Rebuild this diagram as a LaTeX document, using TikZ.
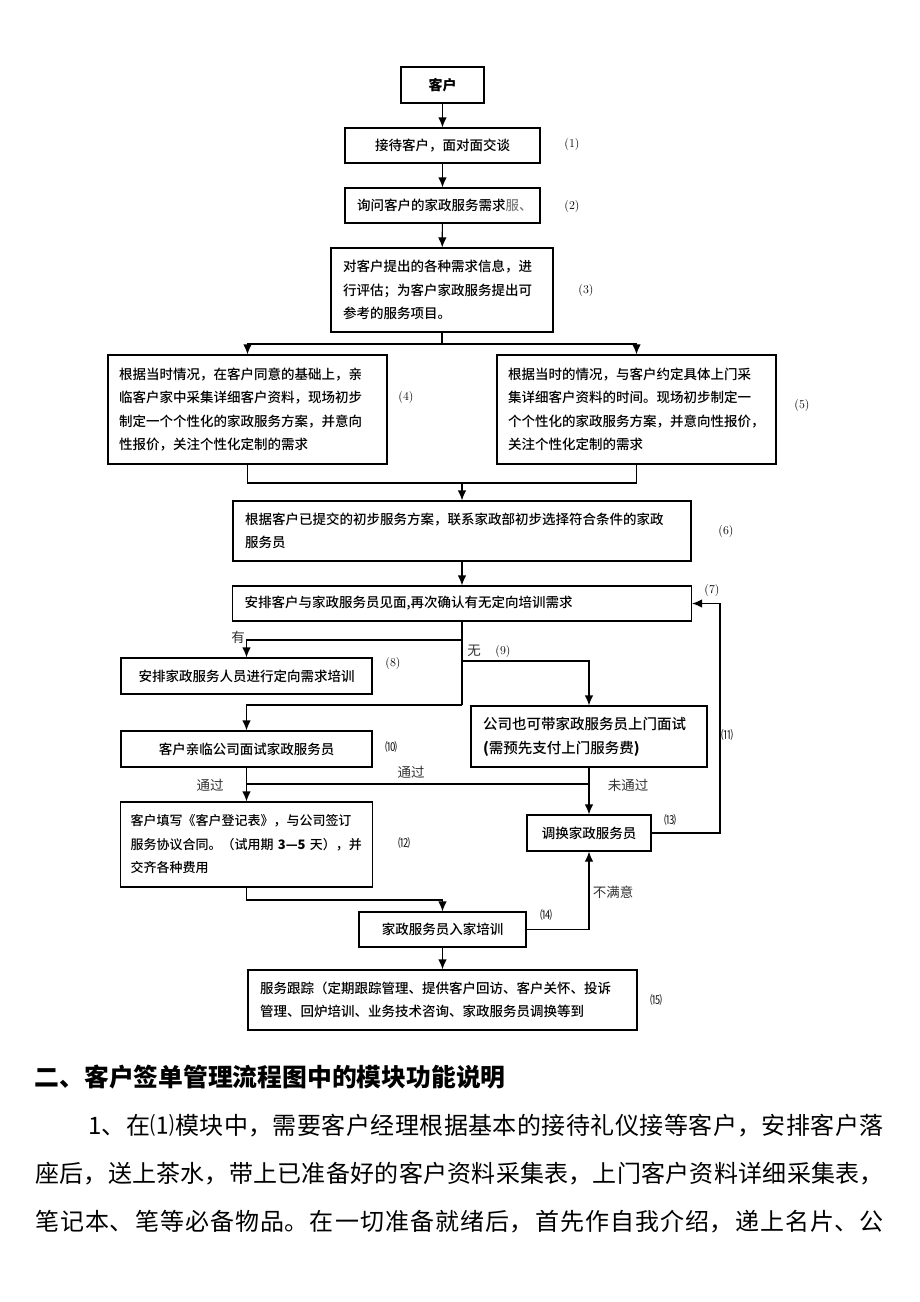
\documentclass[tikz,border=0pt]{standalone}
\usepackage{fontspec}
\newfontfamily\cjk{Noto Sans CJK SC}
\newfontfamily\cjkm{Noto Sans CJK SC Medium}
\usepackage{tikz}
\usetikzlibrary{arrows.meta}
\definecolor{ink}{RGB}{0, 0, 0}
\definecolor{faded}{RGB}{125, 125, 125}
\definecolor{note}{RGB}{50, 50, 50}

\begin{document}
\begin{tikzpicture}[x=1pt, y=-1pt, line width=1.2pt, >={Latex[length=10pt, width=8.5pt]},
  box/.style={draw=ink, inner xsep=12pt, inner ysep=0pt, align=left,
    font=\cjkm\fontsize{13.5}{23.5}\selectfont},
  mid/.style={box, align=center},
  num/.style={font=\fontsize{12}{12}\selectfont},
  wnum/.style={font=\cjk\fontsize{12}{12}\selectfont},
  tag/.style={text=note, font=\cjk\fontsize{13.5}{13.5}\selectfont}]

  \fill[white] (0, 0) rectangle (920, 1302);

  \node[mid, text width=59pt, minimum height=36pt,
    font=\cjk\bfseries\fontsize{14}{14}\selectfont] (kehu) at (442.5, 85) {客户};
  \node[mid, text width=171pt, minimum height=35pt] (jiedai) at (442.5, 145.5) {接待客户，面对面交谈};
  \node[mid, text width=171pt, minimum height=35pt] (xunwen) at (442.5, 205.5) {询问客户的家政服务需求\textcolor{faded}{服、}};
  \node[box, text width=198pt, minimum height=84pt] (pinggu) at (442, 290)
  {对客户提出的各种需求信息，进\\行评估；为客户家政服务提出可\\参考的服务项目。};

  \node[box, inner xsep=11pt, text width=257pt, minimum height=109pt] (qinlin) at (247.5, 409.5)
  {根据当时情况，在客户同意的基础上，亲\\临客户家中采集详细客户资料，现场初步\\制定一个个性化的家政服务方案，并意向\\性报价，关注个性化定制的需求};
  \node[box, inner xsep=11pt, text width=257pt, minimum height=109pt] (yueding) at (636.5, 409.5)
  {根据当时的情况，与客户约定具体上门采\\集详细客户资料的时间。现场初步制定一\\个个性化的家政服务方案，并意向性报价，\\关注个性化定制的需求};

  \node[box, text width=434pt, minimum height=60pt] (xuanze) at (462, 531)
  {根据客户已提交的初步服务方案，联系家政部初步选择符合条件的家政\\服务员};
  \node[box, text width=435pt, minimum height=35pt] (jianmian) at (462, 603.5)
  {安排客户与家政服务员见面,再次确认有无定向培训需求};

  \node[mid, text width=227pt, minimum height=36pt] (peixun) at (246.5, 676) {安排家政服务人员进行定向需求培训};
  \node[box, text width=212pt, minimum height=61pt,
    font=\cjkm\fontsize{14.5}{24}\selectfont] (shangmen) at (589, 736.5)
  {公司也可带家政服务员上门面试\\\textbf{(}需预先支付上门服务费\textbf{)}};
  \node[mid, text width=227pt, minimum height=36pt] (mianshi) at (246.5, 749) {客户亲临公司面试家政服务员};

  \node[box, inner xsep=10pt, text width=232pt, minimum height=85pt,
    font=\cjkm\fontsize{13}{23.5}\selectfont] (qianding) at (246.5, 844.5)
  {客户填写《客户登记表》，与公司签订\\\mbox{服务协议合同。（试用期 {\cjk\bfseries 3—5} 天），并}\\交齐各种费用};
  \node[mid, text width=100pt, minimum height=36pt] (tiaohuan) at (589, 833) {调换家政服务员};
  \node[mid, text width=143pt, minimum height=35pt] (rujia) at (442.5, 929.5) {家政服务员入家培训};
  \node[box, text width=365pt, minimum height=60pt] (genzong) at (442.5, 1000)
  {服务跟踪（定期跟踪管理、提供客户回访、客户关怀、投诉\\管理、回炉培训、业务技术咨询、家政服务员调换等到};

  \node[num] (n1) at (572, 145) {(1)};
  \node[num] (n2) at (572, 206) {(2)};
  \node[num] (n3) at (586, 290) {(3)};
  \node[num] (n4) at (406, 397) {(4)};
  \node[num] (n5) at (802, 405) {(5)};
  \node[num] (n6) at (726, 531) {(6)};
  \node[num] (n7) at (712, 590) {(7)};
  \node[num] (n8) at (393, 663) {(8)};
  \node[num] (n9) at (503, 651) {(9)};
  \node[wnum] (n10) at (391, 747) {⑽};
  \node[wnum] (n11) at (727, 735) {⑾};
  \node[wnum] (n12) at (404, 843) {⑿};
  \node[wnum] (n13) at (670, 820) {⒀};
  \node[wnum] (n14) at (546, 915) {⒁};
  \node[wnum] (n15) at (656, 1000) {⒂};

  \node[tag] (t1) at (238, 637) {有};
  \node[tag] (t2) at (474, 651) {无};
  \node[tag] (t3) at (210, 785) {通过};
  \node[tag] (t4) at (411, 772) {通过};
  \node[tag] (t5) at (628, 785) {未通过};
  \node[tag] (t6) at (613, 892) {不满意};

  \draw[->] (kehu) -- (jiedai);
  \draw[->] (jiedai) -- (xunwen);
  \draw[->] (xunwen) -- (pinggu);

  \coordinate (fen) at (442, 344);
  \draw (pinggu) -- (fen);
  \draw[->] (fen) -| (qinlin);
  \draw[->] (fen) -| (yueding);
  \coordinate (he) at (462, 483);
  \draw (qinlin) |- (he);
  \draw (yueding) |- (he);
  \draw[->] (he) -- (xuanze);
  \draw[->] (xuanze) -- (jianmian);

  \coordinate (you) at (462, 640);
  \coordinate (wu) at (462, 661);
  \coordinate (guai) at (462, 705);
  \draw (jianmian) -- (guai);
  \draw[->] (you) -| (peixun);
  \draw[->] (wu) -| (shangmen);
  \draw[->] (guai) -| (mianshi);
  \draw[->] (mianshi) -- (qianding);

  \coordinate (tongguo) at (589, 784);
  \coordinate (ru) at (246.5, 784);
  \draw (tongguo) -- (ru);
  \draw[->] (shangmen) -- (tiaohuan);
  \coordinate (hui) at (720, 720);
  \draw[->] (tiaohuan) -| (hui) |- (jianmian);

  \coordinate (xia) at (442.5, 900);
  \draw[->] (qianding) |- (xia) -- (rujia);
  \draw[->] (rujia) -| (tiaohuan);
  \draw[->] (rujia) -- (genzong);

  \node[anchor=west, inner sep=0pt, font=\cjk\bfseries\fontsize{24.8}{24.8}\selectfont] (biaoti) at (34, 1077)
  {二、客户签单管理流程图中的模块功能说明};
  \node[anchor=north west, inner sep=0pt, text width=848pt, align=justify,
    font=\cjk\fontsize{24}{48}\selectfont] (shuoming) at (35, 1114)
  {\XeTeXlinebreaklocale "zh"\XeTeXlinebreakskip=0pt plus 3pt\parfillskip=0pt\relax
   \noindent\hspace*{53pt}1、在⑴模块中，需要客户经理根据基本的接待礼仪接等客户，安排客户落\linebreak
   座后，送上茶水，带上已准备好的客户资料采集表，上门客户资料详细采集表，\linebreak
   笔记本、笔等必备物品。在一切准备就绪后，首先作自我介绍，递上名片、公\par};

\end{tikzpicture}
\end{document}
